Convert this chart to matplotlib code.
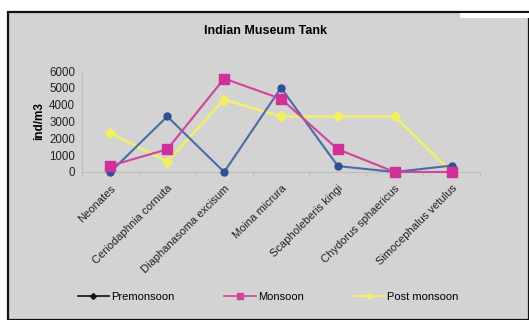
import matplotlib
matplotlib.use("Agg")
import matplotlib.pyplot as plt
from matplotlib.patches import Rectangle
from matplotlib.lines import Line2D

plt.rcParams['font.family'] = ['Liberation Sans', 'DejaVu Sans']

categories = ["Neonates", "Ceriodaphnia cornuta", "Diaphanasoma excisum", "Moina micrura",
              "Scapholeberis kingi", "Chydorus sphaericus", "Simocephalus vetulus"]
premonsoon = [0, 3300, 0, 5000, 350, 0, 380]
monsoon = [370, 1350, 5550, 4350, 1350, 0, 0]
post_monsoon = [2300, 620, 4300, 3300, 3300, 3300, 0]
yticks = [0, 1000, 2000, 3000, 4000, 5000, 6000]

W, H = 529, 320
fig = plt.figure(figsize=(W / 100, H / 100), dpi=100)
fig.patch.set_facecolor('white')
bg = '#d3d3d3'
rect = Rectangle((8 / W, 0), (W - 8) / W, (H - 12) / H, transform=fig.transFigure,
                 facecolor=bg, edgecolor='#111111', linewidth=1.6, zorder=-10)
fig.patches.append(rect)
fig.patches.append(Rectangle((460 / W, 1 - 18 / H), (W - 460) / W, 5 / H, transform=fig.transFigure,
                             facecolor='white', edgecolor='none', zorder=-9))

ax = fig.add_axes([82 / W, 1 - 172 / H, (480 - 82) / W, (172 - 71) / H])
ax.set_zorder(1)
ax.set_facecolor(bg)
x = list(range(len(categories)))
ax.plot(x, premonsoon, color='#4a6aa8', marker='o', markersize=5, markerfacecolor='#2f4f94',
        markeredgecolor='#2f4f94', linewidth=1.5, label='Premonsoon', zorder=3, clip_on=False)
ax.plot(x, monsoon, color='#d0449c', marker='s', markersize=7, markerfacecolor='#d0309a',
        markeredgecolor='#d0309a', linewidth=1.5, label='Monsoon', zorder=4, clip_on=False)
ax.plot(x, post_monsoon, color='#f2f06a', marker='D', markersize=5, markerfacecolor='#f2f060',
        markeredgecolor='#f2f060', linewidth=1.8, label='Post monsoon', zorder=2, clip_on=False)

ax.set_xlim(-0.5, len(categories) - 0.5)
ax.set_ylim(0, 6000)
ax.set_yticks(yticks)
ax.set_yticklabels([str(v) for v in yticks], fontsize=8.3, color='#222222')
ax.set_xticks(x)
ax.set_xticklabels(categories, rotation=45, ha='right', rotation_mode='anchor', fontsize=8, color='#222222')
ax.set_xticks([i - 0.5 for i in range(len(categories) + 1)], minor=True)
ax.tick_params(axis='x', which='major', length=0, pad=8)
ax.tick_params(axis='x', which='minor', length=3, color='#bbbbbb')
ax.tick_params(axis='y', length=0, pad=5)
for s in ['top', 'right']:
    ax.spines[s].set_visible(False)
for s in ['left', 'bottom']:
    ax.spines[s].set_color('#bdbdbd')
ax.set_ylabel('ind/m3', fontsize=8.5, fontweight='bold', labelpad=3)

fig.text(265 / W, 1 - 31 / H, 'Indian Museum Tank', ha='center', va='center', fontsize=9, fontweight='bold')

handles = [Line2D([], [], color='#111111', marker='D', markersize=3, linewidth=1.2),
           Line2D([], [], color='#d0449c', marker='s', markersize=5, linewidth=1.2),
           Line2D([], [], color='#f2f06a', marker='D', markersize=3, linewidth=1.5)]
fig.legend(handles, ['Premonsoon', 'Monsoon', 'Post monsoon'], loc='center',
           bbox_to_anchor=(268 / W, 1 - 297 / H), ncol=3, frameon=False, fontsize=8,
           columnspacing=4.5, handlelength=2.8, handletextpad=0.2)

fig.savefig('out.png', dpi=100, facecolor='white')
